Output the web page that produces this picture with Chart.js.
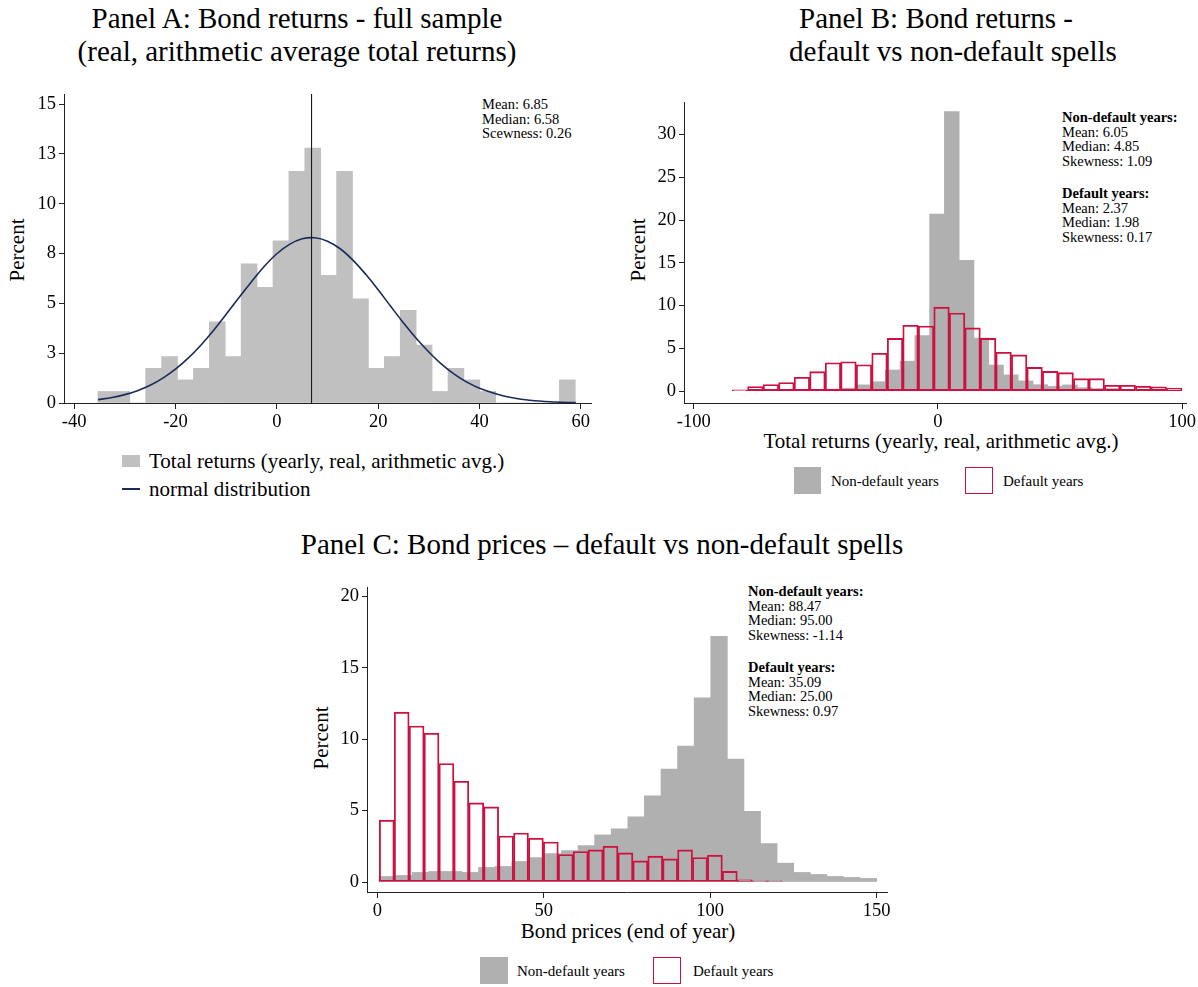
<!DOCTYPE html>
<html><head><meta charset="utf-8">
<script src="https://cdn.jsdelivr.net/npm/chart.js@4"></script>
<style>
html,body{margin:0;padding:0;background:#fff;}
#page{position:relative;width:1198px;height:987px;overflow:hidden;background:#fff;font-family:'Liberation Serif','Times New Roman',serif;color:#000;}
.t{position:absolute;white-space:nowrap;line-height:1;}
.c{transform:translate(-50%,-50%);}
.l{transform:translateY(-50%);}
.rot{transform:translate(-50%,-50%) rotate(-90deg);}
.box{position:absolute;box-sizing:border-box;}
.stats{position:absolute;font-size:14.5px;line-height:14.5px;white-space:nowrap;}
canvas{position:absolute;}
</style></head>
<body><div id="page">
<div class="t c" style="left:297px;top:18px;font-size:29px">Panel A: Bond returns - full sample</div>
<div class="t c" style="left:297px;top:51px;font-size:29px">(real, arithmetic average total returns)</div>
<div class="t c" style="left:936px;top:18px;font-size:29px">Panel B: Bond returns -</div>
<div class="t c" style="left:953px;top:51px;font-size:29px">default vs non-default spells</div>
<div class="t c" style="left:602px;top:544px;font-size:29px">Panel C: Bond prices – default vs non-default spells</div>

<div class="t rot" style="left:17px;top:250px;font-size:21px">Percent</div>
<div class="t rot" style="left:638px;top:250px;font-size:21px">Percent</div>
<div class="t rot" style="left:321px;top:738px;font-size:21px">Percent</div>

<div class="t c" style="left:941px;top:441px;font-size:21px">Total returns (yearly, real, arithmetic avg.)</div>
<div class="t c" style="left:628px;top:931px;font-size:21px">Bond prices (end of year)</div>

<div class="box" style="left:122px;top:455px;width:18px;height:12px;background:#c0c0c0"></div>
<div class="t l" style="left:149px;top:461px;font-size:21px">Total returns (yearly, real, arithmetic avg.)</div>
<div class="box" style="left:122px;top:488px;width:18px;height:1.6px;background:#1b2a5a"></div>
<div class="t l" style="left:149px;top:489px;font-size:21px">normal distribution</div>

<div class="box" style="left:794px;top:467px;width:27px;height:27px;background:#b0b0b0"></div>
<div class="t l" style="left:831px;top:481px;font-size:15px">Non-default years</div>
<div class="box" style="left:965px;top:467px;width:28px;height:27px;border:1.4px solid #cc1140"></div>
<div class="t l" style="left:1003px;top:481px;font-size:15px">Default years</div>

<div class="box" style="left:480px;top:957px;width:28px;height:27px;background:#b0b0b0"></div>
<div class="t l" style="left:517px;top:971px;font-size:15px">Non-default years</div>
<div class="box" style="left:653px;top:957px;width:28px;height:27px;border:1.4px solid #cc1140"></div>
<div class="t l" style="left:693px;top:971px;font-size:15px">Default years</div>

<div class="stats" style="left:482px;top:97px">Mean: 6.85<br>Median: 6.58<br>Scewness: 0.26</div>
<div class="stats" style="left:1062px;top:110px"><b>Non-default years:</b><br>Mean: 6.05<br>Median: 4.85<br>Skewness: 1.09</div>
<div class="stats" style="left:1062px;top:186px"><b>Default years:</b><br>Mean: 2.37<br>Median: 1.98<br>Skewness: 0.17</div>
<div class="stats" style="left:748px;top:584px"><b>Non-default years:</b><br>Mean: 88.47<br>Median: 95.00<br>Skewness: -1.14</div>
<div class="stats" style="left:748px;top:660px"><b>Default years:</b><br>Mean: 35.09<br>Median: 25.00<br>Skewness: 0.97</div>

<canvas id="cA" width="590" height="355" style="left:14px;top:80px"></canvas>
<canvas id="cB" width="564" height="347" style="left:634px;top:88px"></canvas>
<canvas id="cC" width="580" height="351" style="left:317px;top:573px"></canvas>
</div>
<script>
// ---------- Panel A: full sample ----------
const binWidthA = 3.14;
const binEdgesA = [-35.30, -32.16, -29.02, -25.88, -22.74, -19.60, -16.46, -13.32, -10.18, -7.04,
  -3.90, -0.76, 2.38, 5.52, 8.66, 11.80, 14.94, 18.08, 21.22, 24.36,
  27.50, 30.64, 33.78, 36.92, 40.06, 43.20, 46.34, 49.48, 52.62, 55.76];
const percentA = [0.58, 0.58, 0, 1.74, 2.33, 1.16, 1.74, 4.07, 2.33, 6.98,
  5.81, 8.14, 11.63, 12.79, 6.40, 11.63, 5.23, 1.74, 2.33, 4.65,
  2.91, 0.58, 1.74, 1.16, 0.58, 0, 0, 0, 0, 1.16];
const normalX = [-35.3, -32.5, -30, -27.5, -25, -22.5, -20, -17.5, -15, -12.5, -10, -7.5, -5, -2.5, 0,
  2.5, 5, 7.5, 10, 12.5, 15, 17.5, 20, 22.5, 25, 27.5, 30, 32.5, 35, 37.5, 40, 45, 50, 55, 59];
const normalY = [0.17, 0.28, 0.42, 0.62, 0.89, 1.25, 1.70, 2.25, 2.90, 3.64, 4.45, 5.28, 6.09, 6.85, 7.49,
  7.96, 8.24, 8.29, 8.12, 7.74, 7.17, 6.47, 5.68, 4.84, 4.02, 3.25, 2.56, 1.95, 1.45, 1.05, 0.74, 0.34, 0.14, 0.05, 0.02];
const meanA = 6.85;
const xTicksA = [-40, -20, 0, 20, 40, 60];
const yTicksA = [0, 2.5, 5, 7.5, 10, 12.5, 15];
const yTickLabelsA = ['0', '3', '5', '8', '10', '13', '15'];

// ---------- Panel B: returns, default vs non-default ----------
const binWidthBnon = 6.05;
const binEdgesBnon = [-45.75, -39.70, -33.65, -27.60, -21.55, -15.50, -9.45, -3.40, 2.65, 8.70,
  14.75, 20.80, 26.85, 32.90, 38.95, 45.00, 51.05, 57.10, 63.15, 69.20, 75.25, 81.30, 87.35, 93.40];
const percentBnon = [0.23, 0.35, 0.73, 1.10, 2.47, 3.50, 6.50, 20.70, 32.70, 15.30,
  6.20, 3.05, 1.90, 1.20, 0.75, 0.55, 0.73, 0.40, 0.30, 0.30, 0.20, 0.20, 0.15, 0.10];
const binWidthBdef = 6.355;
const binEdgesBdef = [-84.30, -77.95, -71.59, -65.24, -58.88, -52.53, -46.17, -39.82, -33.46, -27.11,
  -20.75, -14.40, -8.04, -1.69, 4.67, 11.02, 17.38, 23.73, 30.09, 36.44,
  42.80, 49.15, 55.51, 61.86, 68.22, 74.57, 80.93, 87.28, 93.64];
const percentBdef = [0.15, 0.54, 0.77, 1.00, 1.62, 2.27, 3.31, 3.43, 3.08, 4.43,
  6.16, 7.70, 7.62, 9.82, 9.13, 7.39, 6.16, 4.54, 4.24, 2.77,
  2.31, 2.16, 1.46, 1.46, 0.69, 0.69, 0.58, 0.50, 0.35];
const xTicksB = [-100, 0, 100];
const yTicksB = [0, 5, 10, 15, 20, 25, 30];

// ---------- Panel C: prices, default vs non-default ----------
const binWidthCnon = 4.983;
const binEdgesCnon = [0.50, 5.48, 10.47, 15.45, 20.43, 25.42, 30.40, 35.38, 40.36, 45.35,
  50.33, 55.31, 60.30, 65.28, 70.26, 75.25, 80.23, 85.21, 90.19, 95.18,
  100.16, 105.14, 110.13, 115.11, 120.09, 125.08, 130.06, 135.04, 140.02, 145.01];
const percentCnon = [0.39, 0.46, 0.67, 0.74, 0.74, 0.67, 1.02, 1.09, 1.44, 1.71,
  1.99, 2.20, 2.55, 3.30, 3.73, 4.57, 6.03, 7.90, 9.52, 12.90,
  17.20, 8.60, 4.94, 2.69, 1.32, 0.67, 0.53, 0.39, 0.32, 0.25];
const binWidthCdef = 4.48;
const binEdgesCdef = [0.60, 5.08, 9.56, 14.04, 18.52, 23.00, 27.48, 31.96, 36.44, 40.92,
  45.40, 49.88, 54.36, 58.84, 63.32, 67.80, 72.28, 76.76, 81.24, 85.72,
  90.20, 94.68, 99.16, 103.64, 108.12, 112.60, 117.08];
const percentCdef = [4.33, 11.89, 10.92, 10.41, 8.30, 7.05, 5.54, 5.26, 3.22, 3.43,
  3.06, 2.80, 1.92, 2.13, 2.25, 2.50, 2.04, 1.48, 1.81, 1.62,
  2.25, 1.71, 1.88, 0.74, 0.16, 0.09, 0.09];
const xTicksC = [0, 50, 100, 150];
const yTicksC = [0, 5, 10, 15, 20];

// ---------- helpers ----------
const GRAY_A = '#c0c0c0', GRAY = '#b0b0b0', RED = '#cc1140', NAVY = '#1b2a5a', AXIS = '#222';
const tickFont = {family: "'Liberation Serif', 'Times New Roman', serif", size: 18.5};

function histPoints(edges, width, values) {
  return edges.map((e, i) => ({x: e + width / 2, y: values[i]}));
}
function barSet(points, opts, axisId) {
  return Object.assign({type: 'bar', data: points, xAxisID: axisId, barPercentage: 1, categoryPercentage: 1,
    grouped: false, borderWidth: 0}, opts);
}
function xAxis(min, max, ticks, hidden) {
  const a = {type: 'linear', min, max, offset: false, display: !hidden,
    grid: {offset: false, display: true, drawOnChartArea: false, drawTicks: true, tickLength: 6, color: AXIS, lineWidth: 1},
    border: {display: true, color: AXIS, width: 1},
    ticks: {font: tickFont, color: '#000', padding: 2, maxRotation: 0, autoSkip: false},
    afterBuildTicks: s => { s.ticks = ticks.map(v => ({value: v})); },
    afterFit: s => { s.height = hidden ? 0 : 32; }};
  return a;
}
function yAxis(min, max, ticks, labels) {
  return {type: 'linear', min, max,
    grid: {display: true, drawOnChartArea: false, drawTicks: true, tickLength: 5, color: AXIS, lineWidth: 1},
    border: {display: true, color: AXIS, width: 1},
    ticks: {font: tickFont, color: '#000', padding: 3, autoSkip: false,
      callback: (v, i) => labels ? labels[i] : String(v)},
    afterBuildTicks: s => { s.ticks = ticks.map(v => ({value: v})); },
    afterFit: s => { s.width = 50; }};
}
function baseOptions(padRight, scales) {
  return {responsive: false, animation: false, devicePixelRatio: 1,
    layout: {autoPadding: false, padding: {top: 12, right: padRight, left: 0, bottom: 0}},
    plugins: {legend: {display: false}, tooltip: {enabled: false}},
    scales};
}

// Panel A
new Chart(document.getElementById('cA'), {
  type: 'bar',
  data: {datasets: [
    {type: 'line', data: [{x: meanA, y: 0}, {x: meanA, y: 15.5}], borderColor: '#1a1a1a', borderWidth: 1.1,
      pointRadius: 0, fill: false, order: 0},
    {type: 'line', data: normalX.map((x, i) => ({x, y: normalY[i]})), borderColor: NAVY, borderWidth: 1.6,
      pointRadius: 0, tension: 0.4, fill: false, order: 1},
    barSet(histPoints(binEdgesA, binWidthA, percentA), {backgroundColor: GRAY_A, order: 2}, 'x')
  ]},
  options: baseOptions(13, {x: xAxis(-42, 62, xTicksA), y: yAxis(0, 15.5, yTicksA, yTickLabelsA)})
});

// Panel B
new Chart(document.getElementById('cB'), {
  type: 'bar',
  data: {datasets: [
    barSet(histPoints(binEdgesBdef, binWidthBdef, percentBdef),
      {backgroundColor: 'rgba(0,0,0,0)', borderColor: RED, borderWidth: 1.2, borderSkipped: false, order: 1}, 'x2'),
    barSet(histPoints(binEdgesBnon, binWidthBnon, percentBnon), {backgroundColor: GRAY, order: 2}, 'x')
  ]},
  options: baseOptions(7, {x: xAxis(-104, 102, xTicksB), x2: xAxis(-104, 102, xTicksB, true),
    y: yAxis(-1.39, 33.8, yTicksB)})
});

// Panel C
new Chart(document.getElementById('cC'), {
  type: 'bar',
  data: {datasets: [
    barSet(histPoints(binEdgesCdef, binWidthCdef, percentCdef),
      {backgroundColor: 'rgba(0,0,0,0)', borderColor: RED, borderWidth: 1.2, borderSkipped: false, order: 1}, 'x2'),
    barSet(histPoints(binEdgesCnon, binWidthCnon, percentCnon), {backgroundColor: GRAY, order: 2}, 'x')
  ]},
  options: baseOptions(10, {x: xAxis(-3.1, 153.1, xTicksC), x2: xAxis(-3.1, 153.1, xTicksC, true),
    y: yAxis(-0.7, 20.65, yTicksC)})
});
</script>
</body></html>
